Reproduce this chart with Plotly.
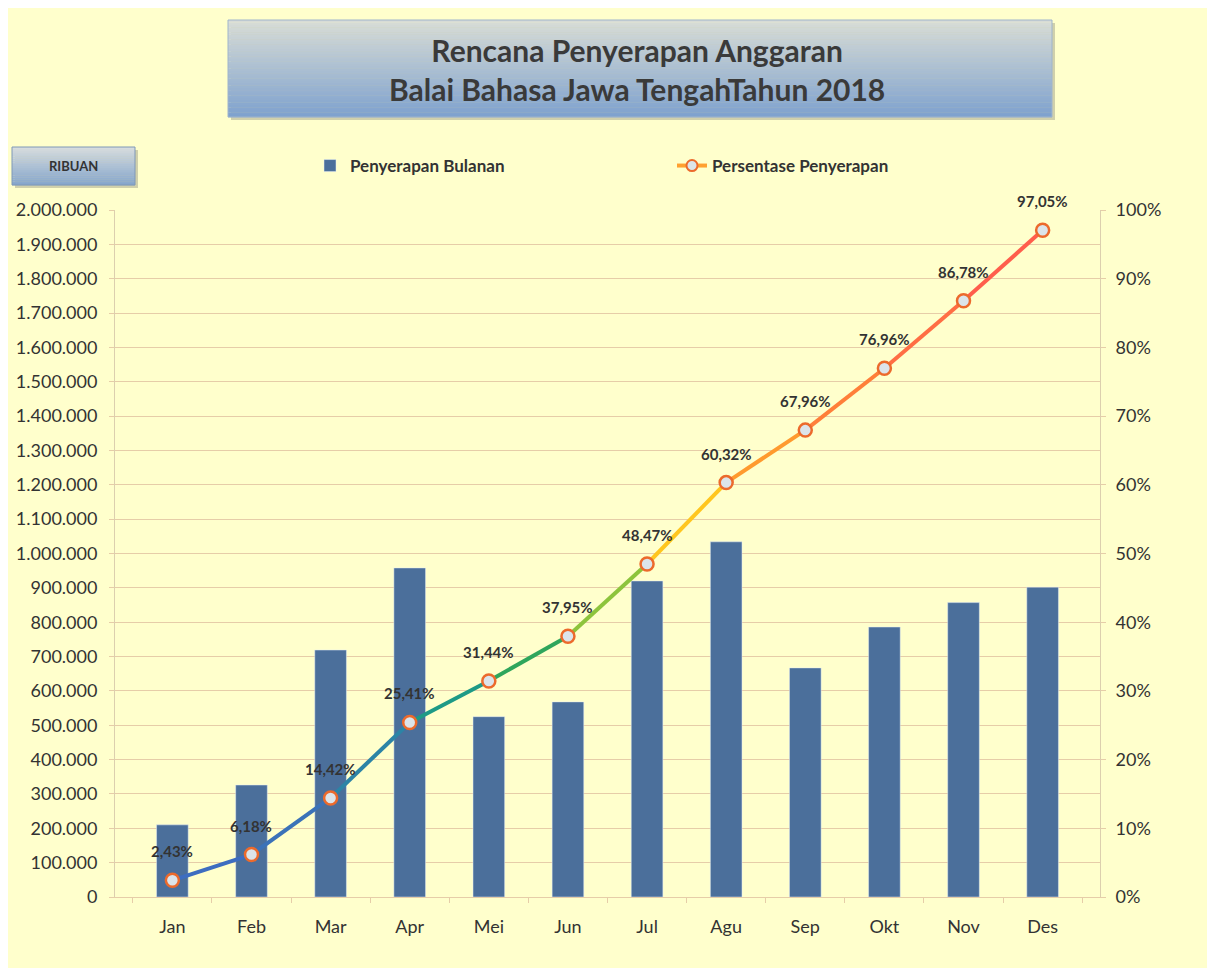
import plotly.graph_objects as go

# ---------------- data ----------------
months = ["Jan", "Feb", "Mar", "Apr", "Mei", "Jun", "Jul", "Agu", "Sep", "Okt", "Nov", "Des"]
monthly = [210000, 326000, 719000, 958000, 525000, 568000, 920000, 1034000, 667000, 786000, 857000, 902000]
cum_pct = [2.43, 6.18, 14.42, 25.41, 31.44, 37.95, 48.47, 60.32, 67.96, 76.96, 86.78, 97.05]
left_ticks = list(range(0, 2000001, 100000))
right_ticks = list(range(0, 101, 10))
right_labels = [f"{v}%" for v in right_ticks]

title_lines = ["Rencana Penyerapan Anggaran", "Balai Bahasa Jawa TengahTahun 2018"]
bar_name = "Penyerapan Bulanan"
line_name = "Persentase Penyerapan"
unit_label = "RIBUAN"

# colours for each line segment (blue -> green -> yellow -> orange -> red)
seg_colors = ["#3D6DC0", "#3B72B8", "#2C84A6", "#1E9A86", "#2FA65C", "#8DC43C",
              "#FFC61E", "#FF9A2E", "#FF7F3A", "#FF6E44", "#FF5E4C"]

# page body has an 8px margin: work in reference-pixel coords, shift by OFF
OFF = 8
W, H = 1215 - OFF, 968 - OFF
PL, PR, PT, PB = 115, 1100, 210, 897   # plot area edges in reference pixels
L, R, T, B = PL - OFF, W - (PR - OFF), PT - OFF, H - (PB - OFF)
FONT = "Lato, 'Open Sans', sans-serif"
TXT = "#333333"
BG = "#FFFFCC"
GRID = "#E6CDA8"


def px_x(px):
    return (px - PL) / (PR - PL)


def px_y(py):
    return (PB - py) / (PB - PT)


fig = go.Figure()

fig.add_trace(go.Bar(
    x=months, y=monthly, name=bar_name, marker_color="#4B6F9B",
    width=0.4, yaxis="y", showlegend=True,
))

# gradient line as segments
for i in range(len(months) - 1):
    fig.add_trace(go.Scatter(
        x=months[i:i + 2], y=cum_pct[i:i + 2], mode="lines",
        line=dict(color=seg_colors[i], width=4), yaxis="y2",
        showlegend=False, hoverinfo="skip",
    ))

fig.add_trace(go.Scatter(
    x=months, y=cum_pct, mode="markers", yaxis="y2", name=line_name,
    showlegend=False,
    marker=dict(size=13, color="#DCE4EA", line=dict(color="#EC6A2C", width=2.5)),
))

# legend entry for the line
fig.add_trace(go.Scatter(
    x=[None], y=[None], mode="lines+markers", name=line_name, yaxis="y2",
    line=dict(color="#FFA030", width=4),
    marker=dict(size=11, color="#DCE4EA", line=dict(color="#EC6A2C", width=2)),
))

shapes = []
# outer frame (left and top edges)
shapes.append(dict(type="line", xref="paper", yref="paper",
                   x0=px_x(7), x1=px_x(7), y0=px_y(968), y1=px_y(4),
                   line=dict(color="#B8B8A0", width=1), layer="below"))
shapes.append(dict(type="line", xref="paper", yref="paper",
                   x0=px_x(7), x1=px_x(1215), y0=px_y(4), y1=px_y(4),
                   line=dict(color="#B8B8A0", width=1), layer="below"))


def lerp(c1, c2, t):
    a = [int(c1[k:k + 2], 16) for k in (1, 3, 5)]
    b = [int(c2[k:k + 2], 16) for k in (1, 3, 5)]
    return "#%02x%02x%02x" % tuple(round(a[j] + (b[j] - a[j]) * t) for j in range(3))


def grad_box(x0, x1, y0, y1, ctop, cbot, n=40, border="#9FB4CC"):
    shapes.append(dict(type="rect", xref="paper", yref="paper",
                       x0=px_x(x0 + 3), x1=px_x(x1 + 3), y0=px_y(y1 + 3), y1=px_y(y0 + 3),
                       line=dict(width=0), fillcolor="rgba(120,120,110,0.35)", layer="below"))
    h = (y1 - y0) / n
    for k in range(n):
        t = k / (n - 1)
        shapes.append(dict(type="rect", xref="paper", yref="paper",
                           x0=px_x(x0), x1=px_x(x1),
                           y0=px_y(y0 + (k + 1) * h + 0.3), y1=px_y(y0 + k * h),
                           line=dict(width=0), fillcolor=lerp(ctop, cbot, t), layer="below"))
    shapes.append(dict(type="rect", xref="paper", yref="paper",
                       x0=px_x(x0), x1=px_x(x1), y0=px_y(y1), y1=px_y(y0),
                       line=dict(color=border, width=1), fillcolor="rgba(0,0,0,0)", layer="below"))


grad_box(228, 1052, 20, 117, "#D8DCD6", "#7FA2CE")
grad_box(12, 135, 147, 185, "#D6DCDD", "#86A6CC", n=20, border="#7F98B8")

annotations = [
    dict(text="<b>" + title_lines[0] + "<br>" + title_lines[1] + "</b>",
         xref="paper", yref="paper", x=px_x(637), y=px_y(69), xanchor="center", yanchor="middle",
         showarrow=False, font=dict(family=FONT, size=30, color="#3A3A3A"), align="center"),
    dict(text="<b>" + unit_label + "</b>", xref="paper", yref="paper",
         x=px_x(73), y=px_y(166), xanchor="center", yanchor="middle", showarrow=False,
         font=dict(family=FONT, size=13, color=TXT)),
]
# data labels
for m, v in zip(months, cum_pct):
    annotations.append(dict(
        x=m, y=v, xref="x", yref="y2", yshift=29, showarrow=False,
        text="<b>" + f"{v:.2f}".replace(".", ",") + "%</b>",
        font=dict(family=FONT, size=15, color=TXT), xanchor="center", yanchor="middle",
    ))

fig.update_layout(
    width=W, height=H,
    margin=dict(l=L, r=R, t=T, b=B, autoexpand=False),
    paper_bgcolor=BG, plot_bgcolor=BG,
    separators=",.",
    font=dict(family=FONT, size=18, color=TXT),
    shapes=shapes, annotations=annotations,
    bargap=0.6,
    legend=dict(orientation="h", x=px_x(310), y=px_y(166), xanchor="left", yanchor="middle",
                bgcolor="rgba(0,0,0,0)", entrywidth=317, entrywidthmode="pixels",
                font=dict(family=FONT, size=17, color=TXT, weight="bold"), traceorder="normal"),
    xaxis=dict(type="category", showgrid=False, showline=True, linecolor=GRID, linewidth=1,
               ticks="outside", tickson="boundaries", ticklen=5, tickcolor=GRID,
               tickfont=dict(size=18, color=TXT), ticklabelstandoff=13),
    yaxis=dict(range=[0, 2000000], tickvals=left_ticks, tickformat=",d",
               showgrid=True, gridcolor=GRID, gridwidth=1, zeroline=False,
               showline=True, linecolor="#DCCFAE", ticks="outside", ticklen=5, tickcolor=GRID,
               tickfont=dict(size=18, color=TXT), ticklabelstandoff=8),
    yaxis2=dict(range=[0, 100], tickmode="array", tickvals=right_ticks, ticktext=right_labels,
                overlaying="y", side="right",
                showgrid=False, zeroline=False, showline=True, linecolor="#DCCFAE",
                ticks="outside", ticklen=5, tickcolor=GRID,
                tickfont=dict(size=18, color=TXT), ticklabelstandoff=6),
)

fig.write_html("out.html")
